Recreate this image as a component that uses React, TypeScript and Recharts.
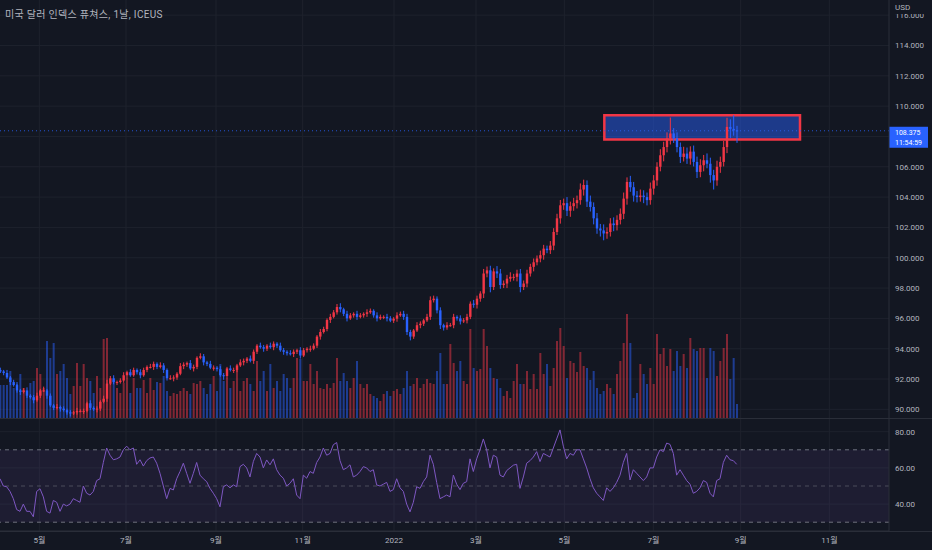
import React from 'react';
import {
  ComposedChart,
  LineChart,
  Line,
  Bar,
  XAxis,
  YAxis,
  CartesianGrid,
  ReferenceLine,
  ReferenceArea,
} from 'recharts';

const BG = '#131722';
const GRID = '#1e222d';
const BORDER = '#2a2e39';
const TEXT = '#b2b5be';
const UP = '#f23645';
const DOWN = '#2962ff';
const RSI_COLOR = '#7e57c2';
const FONT = "Roboto, 'Noto Sans CJK KR', sans-serif";

// one candle per two sessions, Apr 2021 -> end of Aug 2022
const firstOpen = 92.6;
const closes = [
  92.5, 92.4, 92.1, 91.8, 91.6, 91.25, 91.15, 91.25, 90.9, 90.8,
  90.6, 90.9, 91.25, 91.25, 90.9, 90.26, 90.1, 90.15, 90.05, 89.95,
  89.8, 89.73, 89.8, 89.9, 89.9, 89.9, 90.4, 90.1, 90.0, 90.05,
  90.5, 90.7, 91.7, 92.05, 91.8, 91.8, 91.9, 92.25, 92.45, 92.25,
  92.6, 92.45, 92.25, 92.6, 92.8, 92.8, 93.0, 92.8, 92.9, 92.6,
  92.05, 92.05, 92.1, 92.35, 92.85, 92.95, 93.05, 92.7, 92.8, 93.4,
  93.5, 93.1, 93.0, 92.75, 92.75, 92.65, 92.25, 92.2, 92.7, 92.6,
  92.6, 92.9, 93.1, 93.2, 93.35, 93.2, 93.8, 94.2, 94.1, 94.0,
  94.2, 94.1, 94.33, 94.2, 93.9, 93.8, 93.7, 93.65, 93.8, 93.9,
  93.55, 93.9, 94.0, 94.0, 94.2, 94.8, 95.1, 95.3, 95.9, 96.1,
  96.4, 96.75, 96.6, 96.3, 96.0, 96.2, 96.3, 96.1, 96.2, 96.3,
  96.4, 96.5, 96.2, 96.0, 96.1, 96.1, 96.0, 95.85, 95.98, 96.2,
  96.3, 96.1, 95.1, 94.8, 95.2, 95.55, 95.65, 95.87, 96.1, 97.2,
  97.3, 96.53, 95.55, 95.4, 95.55, 95.55, 96.1, 96.0, 95.8, 95.87,
  96.1, 96.97, 96.9, 97.3, 97.64, 98.96, 99.17, 98.07, 99.1, 98.96,
  98.2, 98.3, 98.62, 98.74, 98.74, 98.96, 98.07, 98.3, 98.96, 99.4,
  99.7, 99.95, 100.17, 100.6, 100.5, 100.8, 101.7, 102.6, 103.46, 103.6,
  103.1, 103.4, 103.6, 103.8, 104.5, 104.8, 103.7, 103.35, 102.6, 101.93,
  101.8, 101.6, 101.7, 102.26, 102.15, 102.5, 102.9, 103.9, 105.0, 104.65,
  104.1, 104.0, 104.1, 104.0, 103.8, 104.56, 105.1, 106.0, 106.76, 107.3,
  107.87, 108.2, 107.87, 107.3, 106.65, 106.87, 106.54, 107.0, 106.32, 105.66,
  106.1, 106.43, 106.2, 105.45, 105.1, 106.0, 106.32, 107.3, 108.63, 108.5,
  108.4, 108.375,
];

// wick length above / below the body
const upperWicks = [
  0.15, 0.1, 0.2, 0.1, 0.15, 0.2, 0.1, 0.15, 0.2, 0.1,
  0.15, 0.2, 0.1, 0.25, 0.1, 0.15, 0.1, 0.2, 0.1, 0.15,
  0.1, 0.15, 0.1, 0.2, 0.1, 0.15, 0.1, 0.2, 0.1, 0.15,
  0.1, 0.2, 0.25, 0.15, 0.2, 0.1, 0.15, 0.2, 0.1, 0.2,
  0.15, 0.1, 0.2, 0.15, 0.1, 0.2, 0.15, 0.1, 0.2, 0.15,
  0.1, 0.2, 0.15, 0.1, 0.2, 0.15, 0.1, 0.2, 0.15, 0.1,
  0.2, 0.15, 0.1, 0.2, 0.15, 0.1, 0.2, 0.15, 0.1, 0.2,
  0.15, 0.1, 0.2, 0.15, 0.1, 0.2, 0.15, 0.1, 0.2, 0.15,
  0.1, 0.2, 0.15, 0.1, 0.2, 0.15, 0.1, 0.2, 0.15, 0.1,
  0.2, 0.15, 0.1, 0.2, 0.15, 0.1, 0.2, 0.15, 0.1, 0.2,
  0.15, 0.2, 0.25, 0.1, 0.2, 0.15, 0.1, 0.2, 0.15, 0.1,
  0.2, 0.15, 0.1, 0.2, 0.15, 0.1, 0.2, 0.15, 0.1, 0.2,
  0.15, 0.2, 0.2, 0.15, 0.1, 0.2, 0.15, 0.1, 0.2, 0.25,
  0.2, 0.15, 0.2, 0.1, 0.2, 0.15, 0.2, 0.1, 0.2, 0.15,
  0.2, 0.15, 0.25, 0.2, 0.15, 0.3, 0.25, 0.3, 0.2, 0.35,
  0.3, 0.2, 0.25, 0.3, 0.2, 0.25, 0.3, 0.2, 0.25, 0.2,
  0.25, 0.2, 0.3, 0.25, 0.2, 0.3, 0.25, 0.3, 0.35, 0.3,
  0.4, 0.3, 0.35, 0.3, 0.4, 0.35, 0.3, 0.4, 0.3, 0.35,
  0.3, 0.4, 0.3, 0.35, 0.4, 0.3, 0.35, 0.4, 0.3, 0.4,
  0.35, 0.3, 0.4, 0.35, 0.3, 0.4, 0.35, 0.3, 0.4, 0.35,
  0.4, 1.05, 0.35, 0.4, 0.3, 0.45, 0.4, 0.35, 0.4, 0.35,
  0.4, 0.35, 0.45, 0.4, 0.35, 0.4, 0.35, 0.4, 0.6, 0.5,
  0.9, 0.3,
];

const lowerWicks = [
  0.1, 0.15, 0.1, 0.2, 0.1, 0.15, 0.2, 0.1, 0.15, 0.1,
  0.2, 0.1, 0.15, 0.1, 0.2, 0.1, 0.15, 0.1, 0.2, 0.1,
  0.15, 0.2, 0.1, 0.15, 0.1, 0.2, 0.1, 0.15, 0.1, 0.2,
  0.15, 0.1, 0.2, 0.1, 0.15, 0.2, 0.1, 0.15, 0.2, 0.1,
  0.1, 0.15, 0.2, 0.1, 0.15, 0.1, 0.2, 0.15, 0.1, 0.2,
  0.15, 0.1, 0.2, 0.15, 0.1, 0.2, 0.15, 0.1, 0.2, 0.15,
  0.1, 0.2, 0.15, 0.1, 0.2, 0.15, 0.1, 0.25, 0.15, 0.1,
  0.2, 0.15, 0.1, 0.2, 0.15, 0.1, 0.2, 0.15, 0.1, 0.2,
  0.15, 0.1, 0.2, 0.15, 0.1, 0.2, 0.15, 0.1, 0.2, 0.15,
  0.2, 0.1, 0.15, 0.2, 0.1, 0.15, 0.2, 0.1, 0.15, 0.2,
  0.1, 0.15, 0.2, 0.15, 0.2, 0.1, 0.15, 0.2, 0.1, 0.15,
  0.2, 0.1, 0.15, 0.2, 0.1, 0.15, 0.2, 0.1, 0.15, 0.2,
  0.1, 0.2, 0.2, 0.25, 0.15, 0.1, 0.2, 0.15, 0.1, 0.2,
  0.15, 0.2, 0.25, 0.2, 0.15, 0.1, 0.2, 0.15, 0.2, 0.1,
  0.2, 0.15, 0.2, 0.25, 0.2, 0.3, 0.25, 0.35, 0.2, 0.3,
  0.25, 0.2, 0.3, 0.2, 0.25, 0.3, 0.35, 0.2, 0.25, 0.2,
  0.3, 0.2, 0.25, 0.3, 0.2, 0.25, 0.3, 0.2, 0.35, 0.3,
  0.35, 0.4, 0.3, 0.35, 0.3, 0.4, 0.35, 0.3, 0.4, 0.35,
  0.4, 0.45, 0.35, 0.3, 0.4, 0.35, 0.3, 0.35, 0.4, 0.3,
  0.4, 0.35, 0.3, 0.4, 0.35, 0.3, 0.4, 0.35, 0.3, 0.4,
  0.35, 0.4, 0.3, 0.35, 0.4, 0.3, 0.35, 0.4, 0.3, 0.4,
  0.35, 0.4, 0.3, 0.5, 0.6, 0.35, 0.4, 0.3, 0.4, 0.6,
  0.35, 0.8,
];

const volumes = [
  33, 33, 33, 47, 30, 34, 44, 30, 27, 35,
  37, 50, 44, 30, 77, 60, 75, 44, 47, 54,
  40, 24, 32, 55, 32, 54, 40, 37, 25, 42,
  30, 79, 80, 35, 38, 30, 25, 35, 40, 25,
  40, 30, 30, 38, 25, 40, 28, 36, 35, 42,
  27, 22, 25, 24, 27, 30, 27, 24, 35, 34,
  37, 30, 24, 34, 42, 27, 54, 37, 40, 30,
  37, 50, 27, 37, 40, 34, 27, 57, 37, 47,
  27, 54, 30, 37, 27, 44, 40, 30, 40, 60,
  59, 37, 37, 54, 34, 47, 30, 29, 34, 30,
  35, 60, 37, 45, 37, 30, 40, 57, 34, 30,
  34, 24, 22, 20, 17, 24, 27, 22, 27, 29,
  24, 30, 47, 32, 34, 40, 30, 34, 39, 35,
  34, 47, 65, 34, 34, 74, 55, 47, 57, 37,
  34, 89, 50, 47, 49, 89, 72, 50, 40, 39,
  30, 22, 27, 20, 37, 54, 34, 34, 47, 29,
  44, 29, 65, 44, 54, 32, 50, 77, 90, 72,
  40, 57, 55, 46, 66, 52, 50, 38, 47, 30,
  24, 27, 34, 30, 24, 44, 57, 75, 104, 75,
  20, 25, 54, 44, 34, 50, 34, 84, 64, 70,
  52, 69, 47, 67, 52, 64, 50, 80, 69, 67,
  70, 70, 40, 70, 67, 42, 57, 70, 84, 39,
  60, 14,
];

const rsiValues = [
  54, 50, 49.6, 47, 43, 37, 36, 40, 36, 36,
  33, 47, 48.5, 44, 36, 35, 42, 41, 36, 40,
  39, 40, 43, 42, 41, 50, 46, 45, 47, 53,
  54, 63, 71, 67, 64.5, 65, 66, 70, 72, 70,
  71, 62, 64.5, 61, 64, 65.5, 66, 62.6, 57, 50,
  43, 48.7, 47.8, 54, 58, 62.6, 57, 51.5, 57, 63,
  56, 54, 52.4, 48.7, 46, 43, 38.5, 49.6, 50.6, 49,
  50.6, 49.6, 60.7, 62, 60, 55, 63.5, 68, 66, 60,
  64.4, 61.7, 65, 59, 56, 54.3, 50, 51.5, 54, 45,
  43, 56, 54.3, 58, 57, 63, 66, 71, 67, 68,
  72.8, 74, 64, 59, 60, 61.7, 55, 56, 58, 60.7,
  60, 58, 59, 50.6, 50, 51, 52, 47, 48, 54,
  49, 47, 40, 35.7, 41, 49.6, 48.7, 52.4, 55, 67,
  62, 52, 43, 44, 45, 44, 56, 51, 48, 51.5,
  52.4, 65, 58, 65, 70, 76, 70, 60, 67, 66,
  56, 55, 58.5, 60, 61.5, 62, 48.7, 55, 62.6, 64,
  66, 69, 63.5, 68, 67, 66, 71, 76, 81, 72,
  65, 68, 67, 70, 70, 65, 60, 54, 49, 46,
  44, 42, 49, 47, 49, 52, 56, 63, 68, 53.3,
  59, 57, 55, 53, 55, 60, 60, 66, 70, 69,
  73.7, 73, 68, 56, 59, 56, 53, 51, 46, 47,
  49, 53, 52, 46, 44, 53, 54, 63, 67, 64.5,
  64, 62,
];

const monthTicks = [11.8, 37.8, 64.8, 90.8, 118.2, 142.8, 169.3, 196, 222.2, 248.8];
const monthLabels = ['5월', '7월', '9월', '11월', '2022', '3월', '5월', '7월', '9월', '11월'];
const gridPrices = [90, 92, 94, 96, 98, 100, 102, 104, 106, 108, 110, 112, 114, 116];
// 108.000 sits under the last-price tag, so it has no label of its own
const priceLabels = [90, 92, 94, 96, 98, 100, 102, 104, 106, 110, 112, 114, 116];
const rsiTicks = [40, 60, 80];
const rsiBands = [70, 50, 30];
const lastPrice = 108.375;
const countdown = '11:54:59';
const zone = { x1: 181.3, x2: 240, y1: 107.8, y2: 109.4 };

const X_DOMAIN: [number, number] = [0, 266.7];

const rows = closes.map((close, i) => {
  const open = i === 0 ? firstOpen : closes[i - 1];
  const high = Math.max(open, close) + upperWicks[i];
  const low = Math.min(open, close) - lowerWicks[i];
  return { i, open, close, high, low, range: [low, high], vol: volumes[i], rsi: rsiValues[i] };
});

const CandleShape = (props: any) => {
  const { x, y, width, height, payload } = props;
  if (payload == null || payload.close == null) return null;
  const { open, close, high, low } = payload;
  const top = Math.min(y, y + height);
  const h = Math.abs(height);
  const ppu = h / (high - low || 1);
  const cx = x + width / 2;
  const bodyTop = top + (high - Math.max(open, close)) * ppu;
  const bodyBot = top + (high - Math.min(open, close)) * ppu;
  const color = close >= open ? UP : DOWN;
  return (
    <g>
      <line x1={cx} x2={cx} y1={top} y2={top + h} stroke={color} strokeWidth={1} />
      <rect x={cx - 1.2} y={bodyTop} width={2.4} height={Math.max(bodyBot - bodyTop, 1)} fill={color} />
    </g>
  );
};

const VolumeShape = (props: any) => {
  const { x, y, width, height, payload } = props;
  if (payload == null) return null;
  const cx = x + width / 2;
  const color = payload.close >= payload.open ? UP : DOWN;
  return (
    <rect
      x={cx - 1}
      y={Math.min(y, y + height)}
      width={2}
      height={Math.abs(height)}
      fill={color}
      fillOpacity={0.5}
    />
  );
};

const PriceTag = (props: any) => {
  const vb = props.viewBox;
  if (!vb) return null;
  const left = vb.x + vb.width;
  return (
    <g>
      <rect x={left} y={vb.y - 4} width={39} height={21} fill={DOWN} />
      <text x={left + 6} y={vb.y + 4} fill="#ffffff" fontSize={7}>
        {lastPrice.toFixed(3)}
      </text>
      <text x={left + 6} y={vb.y + 14} fill="#ffffff" fontSize={7}>
        {countdown}
      </text>
    </g>
  );
};

const axisTick = { fill: TEXT, fontSize: 8 };

export default function App() {
  return (
    <div
      style={{
        position: 'absolute',
        left: 0,
        top: 0,
        width: 932,
        height: 550,
        background: BG,
        fontFamily: FONT,
        overflow: 'hidden',
      }}
    >
      <ComposedChart
        width={932}
        height={418}
        data={rows}
        margin={{ top: 0, right: 0, bottom: 0, left: 0 }}
      >
        <CartesianGrid
          xAxisId="c"
          yAxisId="price"
          stroke={GRID}
          verticalValues={monthTicks}
          horizontalValues={gridPrices}
        />
        <XAxis xAxisId="c" type="number" dataKey="i" domain={X_DOMAIN} ticks={monthTicks} allowDataOverflow hide />
        <XAxis xAxisId="v" type="number" dataKey="i" domain={X_DOMAIN} allowDataOverflow hide />
        <YAxis
          yAxisId="price"
          orientation="right"
          width={43}
          domain={[89.43, 117]}
          ticks={priceLabels}
          allowDataOverflow
          interval={0}
          tickFormatter={(v: number) => v.toFixed(3)}
          tick={axisTick}
          tickLine={false}
          tickSize={4}
          axisLine={{ stroke: BORDER }}
        />
        <YAxis yAxisId="vol" domain={[0, 418]} allowDataOverflow hide />
        <Bar
          xAxisId="v"
          yAxisId="vol"
          dataKey="vol"
          barSize={2}
          shape={VolumeShape}
          isAnimationActive={false}
        />
        <ReferenceArea
          xAxisId="c"
          yAxisId="price"
          x1={zone.x1}
          x2={zone.x2}
          y1={zone.y1}
          y2={zone.y2}
          fill={DOWN}
          fillOpacity={0.47}
          stroke={UP}
          strokeWidth={2.5}
          strokeOpacity={1}
        />
        <Bar
          xAxisId="c"
          yAxisId="price"
          dataKey="range"
          barSize={2}
          shape={CandleShape}
          isAnimationActive={false}
        />
        <ReferenceLine
          xAxisId="c"
          yAxisId="price"
          y={lastPrice}
          stroke={DOWN}
          strokeOpacity={0.8}
          strokeDasharray="1 3"
          label={<PriceTag />}
        />
      </ComposedChart>

      <div style={{ position: 'absolute', left: 0, top: 418 }}>
        <LineChart width={932} height={132} data={rows} margin={{ top: 0, right: 0, bottom: 0, left: 0 }}>
          <CartesianGrid stroke={GRID} verticalValues={monthTicks} horizontalValues={rsiTicks} />
          <XAxis
            type="number"
            dataKey="i"
            domain={X_DOMAIN}
            ticks={monthTicks}
            interval={0}
            allowDataOverflow
            height={19}
            tickFormatter={(v: number) => monthLabels[monthTicks.indexOf(v)] ?? ''}
            tick={axisTick}
            tickLine={false}
            tickSize={4}
            axisLine={{ stroke: BORDER }}
          />
          <YAxis
            orientation="right"
            width={43}
            domain={[25.14, 87.57]}
            ticks={rsiTicks}
            interval={0}
            allowDataOverflow
            tickFormatter={(v: number) => v.toFixed(2)}
            tick={axisTick}
            tickLine={false}
            tickSize={4}
            axisLine={{ stroke: BORDER }}
          />
          <ReferenceArea y1={30} y2={70} fill={RSI_COLOR} fillOpacity={0.1} stroke="none" />
          {rsiBands.map((b) => (
            <ReferenceLine
              key={b}
              y={b}
              stroke="#787b86"
              strokeOpacity={b === 50 ? 0.5 : 0.9}
              strokeDasharray="4 4"
            />
          ))}
          <Line
            type="linear"
            dataKey="rsi"
            stroke={RSI_COLOR}
            strokeWidth={1}
            dot={false}
            isAnimationActive={false}
          />
        </LineChart>
      </div>

      {/* pane borders */}
      <div style={{ position: 'absolute', left: 0, top: 418, width: 932, height: 1, background: BORDER }} />
      <div style={{ position: 'absolute', left: 0, top: 531, width: 932, height: 1, background: BORDER }} />

      <div
        style={{
          position: 'absolute',
          left: 5,
          top: 6,
          fontSize: 10,
          letterSpacing: 0.3,
          color: TEXT,
          whiteSpace: 'nowrap',
        }}
      >
        미국 달러 인덱스 퓨쳐스, 1날, ICEUS
      </div>
      <div
        style={{
          position: 'absolute',
          left: 890,
          top: 0,
          width: 42,
          height: 14,
          background: BG,
          color: TEXT,
          fontSize: 8,
          lineHeight: '15px',
          paddingLeft: 5,
          boxSizing: 'border-box',
        }}
      >
        USD
      </div>
    </div>
  );
}
